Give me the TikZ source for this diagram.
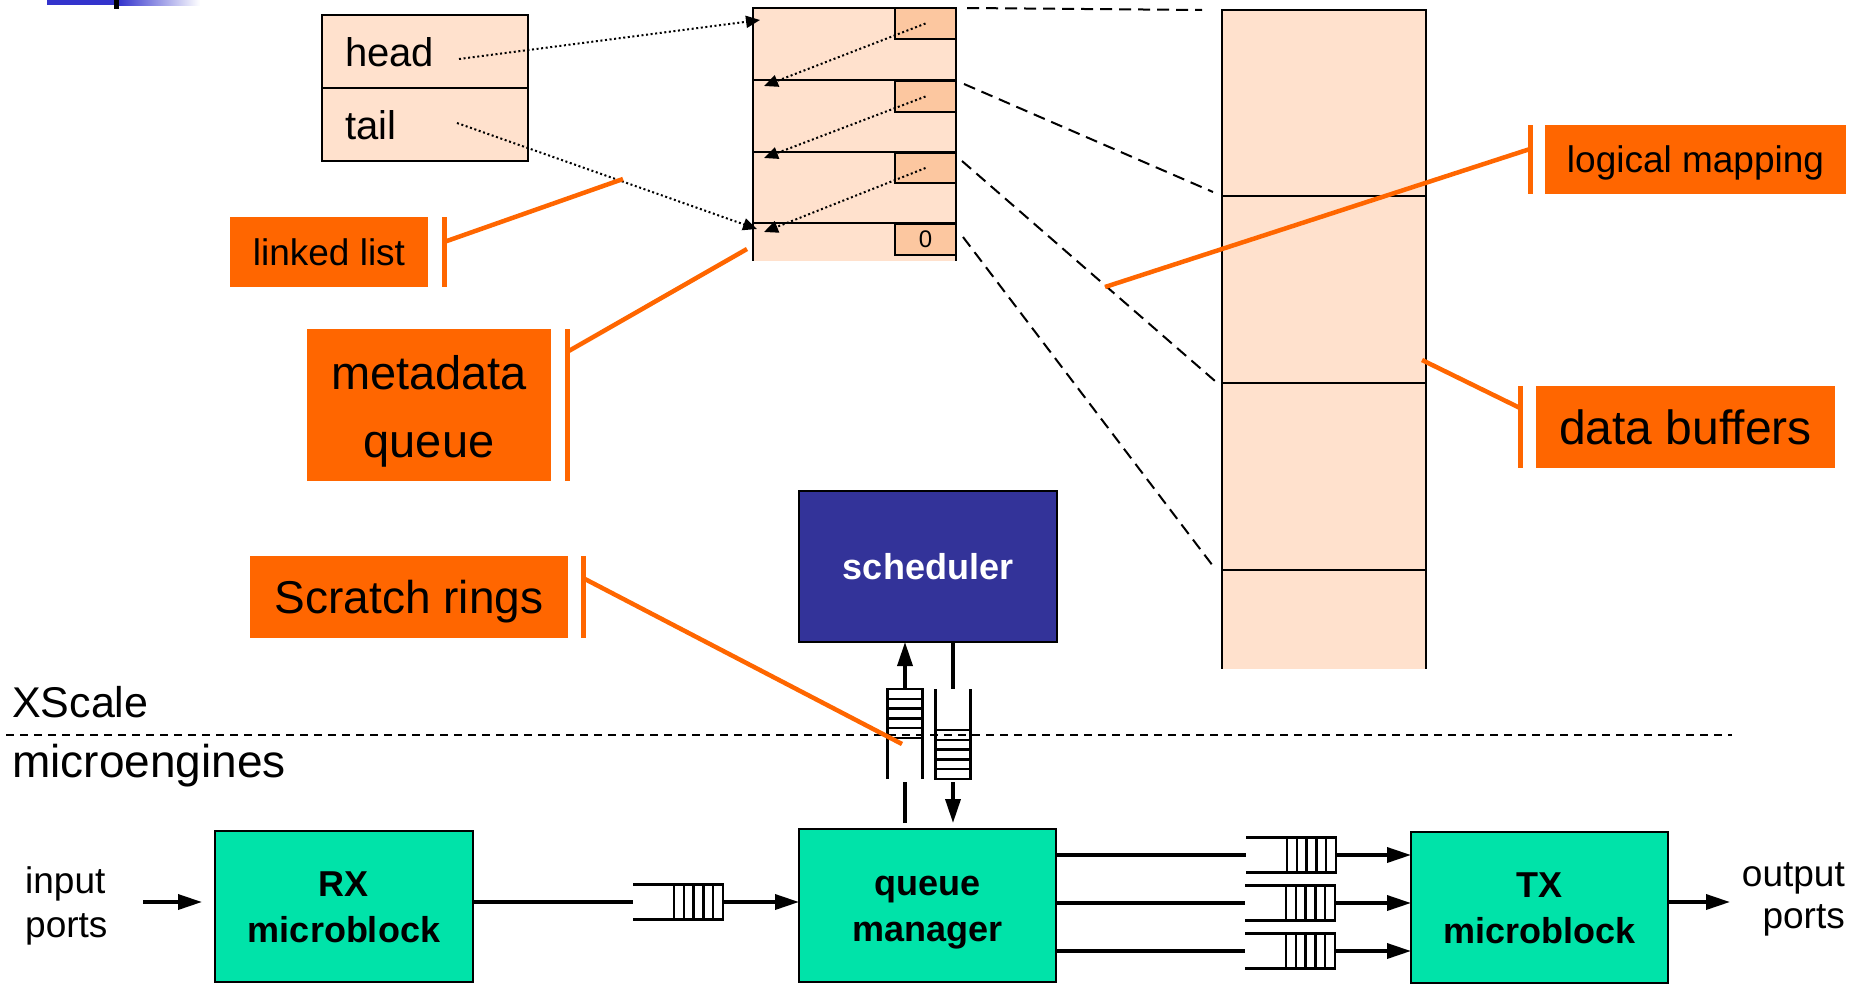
\documentclass[tikz,border=0pt]{standalone}
\usepackage{fontspec}
\setmainfont{Liberation Sans}
\usetikzlibrary{arrows.meta,calc}

\definecolor{peach}{HTML}{FFE1CD}
\definecolor{peachdark}{HTML}{FCC7A0}
\definecolor{calloutorange}{HTML}{FF6600}
\definecolor{mint}{HTML}{00E3A9}
\definecolor{schedblue}{HTML}{333399}
\definecolor{titleblue}{HTML}{3333CC}

\newcommand{\fsz}[2]{\fontsize{#1}{#2}\selectfont}

\tikzset{
  edge/.style={line width=2pt},
  cell/.style={draw, line width=2.5pt, fill=peach, inner sep=0pt, outer sep=0pt, minimum width=203pt},
  bufcell/.style={draw, line width=2pt, fill=peach, inner sep=0pt, outer sep=0pt, minimum width=204pt},
  ptrbox/.style={draw, line width=2.5pt, fill=peachdark, inner sep=0pt, outer sep=0pt, minimum width=61pt, font=\fsz{24}{28}},
  field/.style={draw, line width=2.5pt, fill=peach, outer sep=0pt, minimum width=206pt, minimum height=73pt,
    inner xsep=23pt, inner ysep=0pt, text width=160pt, align=left, text height=29pt, text depth=0pt, font=\fsz{40}{48}},
  note/.style={fill=calloutorange, inner sep=0pt, outer sep=0pt, align=center, text depth=0pt},
  tick/.style={draw=calloutorange, line width=5pt},
  leader/.style={draw=calloutorange, line width=4.5pt},
  link/.style={line width=2pt, dash pattern=on 2pt off 2.6pt, -{Triangle[length=14pt,width=12pt]}},
  map/.style={line width=2pt, dash pattern=on 12pt off 7pt},
  block/.style={draw, line width=2pt, fill=mint, inner sep=0pt, outer sep=0pt, minimum width=258pt, minimum height=151pt,
    align=center, text height=72pt, text depth=0pt, font=\fsz{36}{46}\bfseries},
  wire/.style={line width=3.5pt},
  flow/.style={line width=3.5pt, -{Triangle[length=24pt,width=15pt]}},
  ringline/.style={line width=2.5pt},
  ring/.pic={
    \coordinate (-in) at (0,0);
    \coordinate (-out) at (90,0);
    \draw[ringline] (0,-17.5) -- (41,-17.5) (0,17.5) -- (41,17.5);
    \draw[ringline] (41,-17.5) rectangle (90,17.5);
    \foreach \k in {1,...,4} \draw[ringline] ({41+9.8*\k},-17.5) -- ++(0,35);
  },
}

\begin{document}
\begin{tikzpicture}[x=1pt, y=-1pt]
\useasboundingbox (0,0) rectangle (1860,983);

% corner of the slide title bar
\fill[titleblue] (47,0) rectangle (118,5);
\shade[left color=titleblue, right color=white] (118,0) rectangle (200,5);
\fill (113.5,0) rectangle (118.5,9);

% data buffers (open at the bottom)
\node[fill=peach, inner sep=0pt, outer sep=0pt, minimum width=204pt, minimum height=99pt] (b4) at (1324,619.5) {};
\node[bufcell, minimum height=186pt] (b1) at (1324,103) {};
\node[bufcell, minimum height=187pt] (b2) at (1324,289.5) {};
\node[bufcell, minimum height=187pt] (b3) at (1324,476.5) {};
\draw[edge] (b4.north west) -- (b4.south west) (b4.north east) -- (b4.south east);

% metadata queue (open at the bottom)
\node[fill=peach, inner sep=0pt, outer sep=0pt, minimum width=203pt, minimum height=38pt] (m4) at (854.5,242) {};
\node[cell, minimum height=72pt] (m1) at (854.5,44) {};
\node[cell, minimum height=72pt] (m2) at (854.5,116) {};
\node[cell, minimum height=71pt] (m3) at (854.5,187.5) {};
\draw[line width=2.5pt] (m4.north west) -- (m4.south west) (m4.north east) -- (m4.south east);

\node[ptrbox, minimum height=31pt] (p1) at (925.5,23.5) {};
\node[ptrbox, minimum height=31pt] (p2) at (925.5,96.5) {};
\node[ptrbox, minimum height=30pt] (p3) at (925.5,168) {};
\node[ptrbox, minimum height=31pt] (p4) at (925.5,239.5) {0};

% mapping of metadata entries onto buffers
\draw[map] ($(m1.north east)+(11,0)$) -- ($(b1.north west)+(-20,0)$);
\draw[map] ($(m2.north east)+(8,4)$) -- ($(b2.north west)+(-9,-4)$);
\draw[map] ($(m3.north east)+(6,9)$) -- ($(b3.north west)+(-7,-2)$);
\draw[map] ($(m4.north east)+(7,14)$) -- ($(b4.north west)+(-9,-4)$);

% next pointers
\draw[link] (p1.center) -- ($(m2.north west)+(11,6)$);
\draw[link] (p2.center) -- ($(m3.north west)+(11,6)$);
\draw[link] (p3.center) -- ($(m4.north west)+(11,9)$);

% head / tail
\node[field] (hd) at (425,51.5) {head};
\node[field] (tl) at (425,124.5) {tail};
\draw[link] ($(hd.west)+(137,7.5)$) -- ($(m1.north west)+(7,12)$);
\draw[link] ($(tl.west)+(135,-1.5)$) -- ($(m4.north west)+(4,6)$);

% callouts
\node[note, minimum width=198pt, minimum height=70pt, text height=26.5pt, font=\fsz{37}{44}] (ll) at (329,252) {linked list};
\coordinate (lltarget) at (623,179);
\draw[tick] ($(ll.north east)+(16,0)$) -- ($(ll.south east)+(16,0)$);
\draw[leader] ($(ll.north east)+(16,25)$) -- (lltarget);

\node[note, minimum width=244pt, minimum height=152pt, text height=114pt, text depth=10pt, font=\fsz{47}{68}] (mq) at (429,405) {metadata\\queue};
\coordinate (mqtarget) at (747,249);
\draw[tick] ($(mq.north east)+(16,0)$) -- ($(mq.south east)+(16,0)$);
\draw[leader] ($(mq.north east)+(16,23)$) -- (mqtarget);

\node[note, minimum width=318pt, minimum height=82pt, text height=33pt, font=\fsz{46}{55}] (sr) at (409,597) {Scratch rings};
\coordinate (srtarget) at (902,744);

\node[note, minimum width=301pt, minimum height=69pt, text height=26.5pt, font=\fsz{37}{44}] (lm) at (1695.5,159.5) {logical mapping};
\coordinate (lmtarget) at (1105,287);
\draw[tick] ($(lm.north west)+(-15,0)$) -- ($(lm.south west)+(-15,0)$);
\draw[leader] ($(lm.north west)+(-15,24)$) -- (lmtarget);

\node[note, minimum width=299pt, minimum height=82pt, text height=34.4pt, font=\fsz{48}{58}] (db) at (1685.5,427) {data buffers};
\coordinate (dbtarget) at (1422,360);
\draw[tick] ($(db.north west)+(-16,0)$) -- ($(db.south west)+(-16,0)$);
\draw[leader] ($(db.north west)+(-16,22)$) -- (dbtarget);

% XScale / microengines boundary
\draw[line width=2pt, dash pattern=on 8pt off 6pt] (6,735) -- (1732,735);
\node[anchor=base west, inner sep=0pt, font=\fsz{43}{50}] (xs) at (12,717) {XScale};
\node[anchor=base west, inner sep=0pt, font=\fsz{46}{55}] (me) at (12,777) {microengines};

% processing blocks
\node[draw, line width=2pt, fill=schedblue, text=white, inner sep=0pt, outer sep=0pt, minimum width=258pt, minimum height=151pt,
  text height=26pt, text depth=0pt, font=\fsz{36}{44}\bfseries] (sched) at (928,566.5) {scheduler};
\node[block] (rx) at (344,906.5) {RX\\microblock};
\node[block, minimum width=257pt, minimum height=153pt] (qm) at (927.5,905.5) {queue\\manager};
\node[block, minimum width=257pt] (tx) at (1539.5,907) {TX\\microblock};

% rings
\pic (q0) at (633,902) {ring};
\pic (q1) at (1246,855) {ring};
\pic (q2) at (1245,903) {ring};
\pic (q3) at (1245,951) {ring};
\pic[rotate=90] (s1) at (905,779) {ring};
\pic[rotate=-90] (s2) at (953,689) {ring};

% ports
\node[anchor=west, inner sep=0pt, align=left, text height=71pt, text depth=0pt, font=\fsz{37}{44}] (inlbl) at (25,901.5) {input\\ports};
\node[anchor=east, inner sep=0pt, align=right, text height=69pt, text depth=0pt, font=\fsz{37}{42}] (outlbl) at (1845,893.5) {output\\ports};

% packet flow
\coordinate (inp) at (143,902);
\draw[flow, shorten >=13pt] (inp) -- (inp -| rx.west);
\draw[wire] (rx.east |- q0-in) -- (q0-in);
\draw[flow] (q0-out) -- (q0-out -| qm.west);
\foreach \q in {q1,q2,q3} {
  \draw[wire] (qm.east |- \q-in) -- (\q-in);
  \draw[flow] (\q-out) -- (\q-out -| tx.west);
}
\coordinate (outp) at (1730,902);
\draw[flow] (tx.east |- outp) -- (outp);

% scheduler rings
\draw[flow] (s1-out) -- (s1-out |- sched.south);
\draw[wire] ($(qm.north -| s1-in)+(0,-6)$) -- ($(s1-in)+(0,3)$);
\draw[wire] (sched.south -| s2-in) -- (s2-in);
\draw[flow] ($(s2-out)+(0,3)$) -- ($(qm.north -| s2-out)+(0,-6)$);

% scratch rings leader drawn over the ring
\draw[tick] ($(sr.north east)+(15,0)$) -- ($(sr.south east)+(15,0)$);
\draw[leader] ($(sr.north east)+(15,22)$) -- (srtarget);
\end{tikzpicture}
\end{document}
